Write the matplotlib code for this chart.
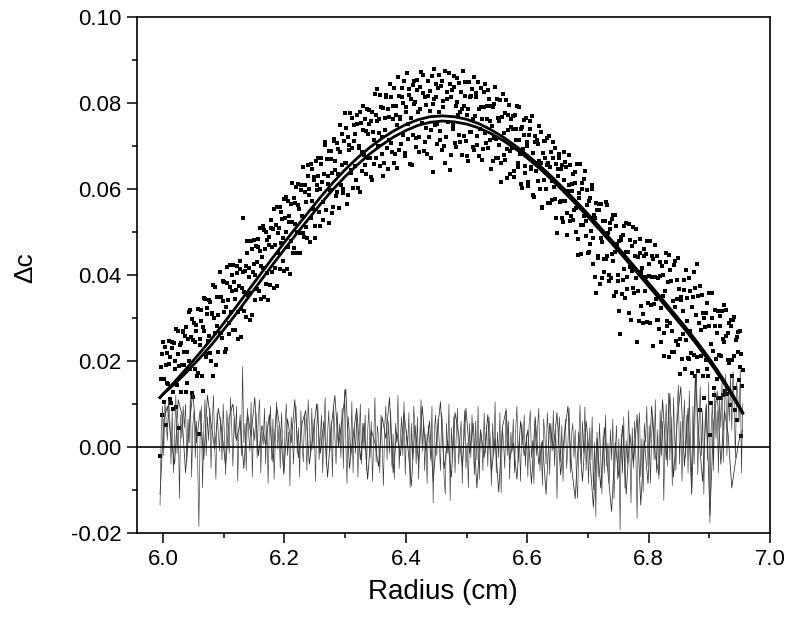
import numpy as np
import matplotlib.pyplot as plt
from matplotlib.ticker import MultipleLocator, FormatStrFormatter

plt.rcParams['font.family'] = ['Liberation Sans', 'DejaVu Sans']

# ---------------- data ----------------
# radius in 1e-3 cm, concentration difference in 1e-4 units
# scan points at odd thousandths of a cm
radius_scan_a = [
    5995, 5997, 5999, 6001, 6003, 6005, 6007, 6009, 6011, 6013,
    6015, 6017, 6019, 6021, 6023, 6025, 6027, 6029, 6031, 6033,
    6035, 6037, 6039, 6041, 6043, 6045, 6047, 6049, 6051, 6053,
    6055, 6057, 6059, 6061, 6063, 6065, 6067, 6069, 6071, 6073,
    6075, 6077, 6079, 6081, 6083, 6085, 6087, 6089, 6091, 6093,
    6095, 6097, 6099, 6101, 6103, 6105, 6107, 6109, 6111, 6113,
    6115, 6117, 6119, 6121, 6123, 6125, 6127, 6129, 6131, 6133,
    6135, 6137, 6139, 6141, 6143, 6145, 6147, 6149, 6151, 6153,
    6155, 6157, 6159, 6161, 6163, 6165, 6167, 6169, 6171, 6173,
    6175, 6177, 6179, 6181, 6183, 6185, 6187, 6189, 6191, 6193,
    6195, 6197, 6199, 6201, 6203, 6205, 6207, 6209, 6211, 6213,
    6215, 6217, 6219, 6221, 6223, 6225, 6227, 6229, 6231, 6233,
    6235, 6237, 6239, 6241, 6243, 6245, 6247, 6249, 6251, 6253,
    6255, 6257, 6259, 6261, 6263, 6265, 6267, 6269, 6271, 6273,
    6275, 6277, 6279, 6281, 6283, 6285, 6287, 6289, 6291, 6293,
    6295, 6297, 6299, 6301, 6303, 6305, 6307, 6309, 6311, 6313,
    6315, 6317, 6319, 6321, 6323, 6325, 6327, 6329, 6331, 6333,
    6335, 6337, 6339, 6341, 6343, 6345, 6347, 6349, 6351, 6353,
    6355, 6357, 6359, 6361, 6363, 6365, 6367, 6369, 6371, 6373,
    6375, 6377, 6379, 6381, 6383, 6385, 6387, 6389, 6391, 6393,
    6395, 6397, 6399, 6401, 6403, 6405, 6407, 6409, 6411, 6413,
    6415, 6417, 6419, 6421, 6423, 6425, 6427, 6429, 6431, 6433,
    6435, 6437, 6439, 6441, 6443, 6445, 6447, 6449, 6451, 6453,
    6455, 6457, 6459, 6461, 6463, 6465, 6467, 6469, 6471, 6473,
    6475, 6477, 6479, 6481, 6483, 6485, 6487, 6489, 6491, 6493,
    6495, 6497, 6499, 6501, 6503, 6505, 6507, 6509, 6511, 6513,
    6515, 6517, 6519, 6521, 6523, 6525, 6527, 6529, 6531, 6533,
    6535, 6537, 6539, 6541, 6543, 6545, 6547, 6549, 6551, 6553,
    6555, 6557, 6559, 6561, 6563, 6565, 6567, 6569, 6571, 6573,
    6575, 6577, 6579, 6581, 6583, 6585, 6587, 6589, 6591, 6593,
    6595, 6597, 6599, 6601, 6603, 6605, 6607, 6609, 6611, 6613,
    6615, 6617, 6619, 6621, 6623, 6625, 6627, 6629, 6631, 6633,
    6635, 6637, 6639, 6641, 6643, 6645, 6647, 6649, 6651, 6653,
    6655, 6657, 6659, 6661, 6663, 6665, 6667, 6669, 6671, 6673,
    6675, 6677, 6679, 6681, 6683, 6685, 6687, 6689, 6691, 6693,
    6695, 6697, 6699, 6701, 6703, 6705, 6707, 6709, 6711, 6713,
    6715, 6717, 6719, 6721, 6723, 6725, 6727, 6729, 6731, 6733,
    6735, 6737, 6739, 6741, 6743, 6745, 6747, 6749, 6751, 6753,
    6755, 6757, 6759, 6761, 6763, 6765, 6767, 6769, 6771, 6773,
    6775, 6777, 6779, 6781, 6783, 6785, 6787, 6789, 6791, 6793,
    6795, 6797, 6799, 6801, 6803, 6805, 6807, 6809, 6811, 6813,
    6815, 6817, 6819, 6821, 6823, 6825, 6827, 6829, 6831, 6833,
    6835, 6837, 6839, 6841, 6843, 6845, 6847, 6849, 6851, 6853,
    6855, 6857, 6859, 6861, 6863, 6865, 6867, 6869, 6871, 6873,
    6875, 6877, 6879, 6881, 6883, 6885, 6887, 6889, 6891, 6893,
    6895, 6897, 6899, 6901, 6903, 6905, 6907, 6909, 6911, 6913,
    6915, 6917, 6919, 6921, 6923, 6925, 6927, 6929, 6931, 6933,
    6935, 6937, 6939, 6941, 6943, 6945, 6947, 6949, 6951, 6953,
    6955,
]

dc_scan_a = [
    -20, 158, 216, 105, 233, 191, 149, 247, 210, 103,
    231, 89, 182, 275, 143, 216, 44, 242, 191, 269,
    222, 280, 148, 252, 200, 318, 126, 249, 288, 181,
    269, 173, 31, 250, 318, 131, 270, 343, 217, 310,
    259, 337, 200, 309, 377, 266, 190, 348, 307, 265,
    349, 253, 386, 315, 228, 382, 341, 289, 423, 362,
    271, 384, 343, 422, 251, 375, 413, 322, 533, 360,
    409, 302, 451, 395, 359, 478, 306, 425, 399, 468,
    367, 465, 509, 343, 442, 416, 504, 378, 482, 341,
    470, 528, 407, 506, 370, 469, 557, 451, 510, 413,
    547, 486, 409, 533, 581, 465, 524, 402, 566, 524,
    463, 567, 605, 499, 562, 451, 610, 538, 497, 610,
    569, 487, 655, 599, 532, 646, 554, 628, 487, 610,
    673, 547, 600, 659, 527, 635, 709, 552, 630, 689,
    597, 670, 543, 711, 645, 583, 706, 634, 687, 610,
    728, 591, 777, 661, 564, 722, 690, 638, 765, 603,
    711, 654, 751, 603, 696, 778, 641, 738, 680, 763,
    635, 727, 784, 672, 759, 621, 713, 820, 672, 759,
    731, 653, 790, 722, 629, 766, 818, 695, 787, 713,
    815, 687, 763, 660, 792, 748, 860, 691, 768, 814,
    726, 852, 684, 790, 752, 833, 659, 810, 726, 852,
    803, 719, 830, 686, 787, 873, 754, 824, 710, 796,
    681, 817, 782, 738, 863, 639, 809, 845, 750, 835,
    780, 715, 850, 805, 700, 660, 825, 755, 870, 644,
    814, 749, 838, 708, 792, 857, 726, 780, 825, 679,
    793, 848, 712, 771, 665, 814, 733, 833, 762, 691,
    815, 724, 848, 676, 790, 763, 692, 826, 729, 793,
    696, 810, 759, 647, 791, 719, 838, 671, 764, 703,
    806, 617, 767, 730, 668, 806, 694, 772, 635, 743,
    696, 769, 642, 740, 793, 661, 713, 611, 744, 692,
    760, 637, 710, 608, 725, 758, 646, 683, 581, 724,
    641, 704, 746, 599, 661, 559, 711, 673, 601, 718,
    660, 568, 685, 618, 710, 577, 659, 497, 629, 681,
    573, 655, 523, 620, 662, 544, 596, 678, 525, 612,
    634, 551, 613, 499, 447, 578, 658, 517, 614, 536,
    641, 490, 562, 453, 580, 502, 599, 426, 533, 357,
    551, 443, 565, 487, 393, 525, 437, 569, 445, 497,
    399, 521, 448, 539, 351, 453, 515, 386, 478, 262,
    482, 389, 515, 347, 454, 396, 518, 419, 296, 468,
    369, 476, 393, 243, 441, 483, 329, 416, 288, 444,
    396, 478, 334, 426, 288, 395, 436, 333, 470, 296,
    393, 275, 431, 323, 399, 211, 363, 429, 281, 447,
    289, 386, 222, 424, 325, 247, 389, 439, 252, 348,
    205, 316, 388, 249, 346, 207, 394, 270, 172, 348,
    213, 369, 425, 177, 288, 375, 211, 312, 113, 279,
    311, 182, 358, 27, 240, 301, 137, 318, 204, 264,
    115, 281, 211, 317, 122, 243, 319, 124, 265, 195,
    295, 165, 295, 211, 86, 255, 220, 155, 270, 25,
    180,
]

# scan points at even thousandths of a cm
radius_scan_b = [
    5996, 5998, 6000, 6002, 6004, 6006, 6008, 6010, 6012, 6014,
    6016, 6018, 6020, 6022, 6024, 6026, 6028, 6030, 6032, 6034,
    6036, 6038, 6040, 6042, 6044, 6046, 6048, 6050, 6052, 6054,
    6056, 6058, 6060, 6062, 6064, 6066, 6068, 6070, 6072, 6074,
    6076, 6078, 6080, 6082, 6084, 6086, 6088, 6090, 6092, 6094,
    6096, 6098, 6100, 6102, 6104, 6106, 6108, 6110, 6112, 6114,
    6116, 6118, 6120, 6122, 6124, 6126, 6128, 6130, 6132, 6134,
    6136, 6138, 6140, 6142, 6144, 6146, 6148, 6150, 6152, 6154,
    6156, 6158, 6160, 6162, 6164, 6166, 6168, 6170, 6172, 6174,
    6176, 6178, 6180, 6182, 6184, 6186, 6188, 6190, 6192, 6194,
    6196, 6198, 6200, 6202, 6204, 6206, 6208, 6210, 6212, 6214,
    6216, 6218, 6220, 6222, 6224, 6226, 6228, 6230, 6232, 6234,
    6236, 6238, 6240, 6242, 6244, 6246, 6248, 6250, 6252, 6254,
    6256, 6258, 6260, 6262, 6264, 6266, 6268, 6270, 6272, 6274,
    6276, 6278, 6280, 6282, 6284, 6286, 6288, 6290, 6292, 6294,
    6296, 6298, 6300, 6302, 6304, 6306, 6308, 6310, 6312, 6314,
    6316, 6318, 6320, 6322, 6324, 6326, 6328, 6330, 6332, 6334,
    6336, 6338, 6340, 6342, 6344, 6346, 6348, 6350, 6352, 6354,
    6356, 6358, 6360, 6362, 6364, 6366, 6368, 6370, 6372, 6374,
    6376, 6378, 6380, 6382, 6384, 6386, 6388, 6390, 6392, 6394,
    6396, 6398, 6400, 6402, 6404, 6406, 6408, 6410, 6412, 6414,
    6416, 6418, 6420, 6422, 6424, 6426, 6428, 6430, 6432, 6434,
    6436, 6438, 6440, 6442, 6444, 6446, 6448, 6450, 6452, 6454,
    6456, 6458, 6460, 6462, 6464, 6466, 6468, 6470, 6472, 6474,
    6476, 6478, 6480, 6482, 6484, 6486, 6488, 6490, 6492, 6494,
    6496, 6498, 6500, 6502, 6504, 6506, 6508, 6510, 6512, 6514,
    6516, 6518, 6520, 6522, 6524, 6526, 6528, 6530, 6532, 6534,
    6536, 6538, 6540, 6542, 6544, 6546, 6548, 6550, 6552, 6554,
    6556, 6558, 6560, 6562, 6564, 6566, 6568, 6570, 6572, 6574,
    6576, 6578, 6580, 6582, 6584, 6586, 6588, 6590, 6592, 6594,
    6596, 6598, 6600, 6602, 6604, 6606, 6608, 6610, 6612, 6614,
    6616, 6618, 6620, 6622, 6624, 6626, 6628, 6630, 6632, 6634,
    6636, 6638, 6640, 6642, 6644, 6646, 6648, 6650, 6652, 6654,
    6656, 6658, 6660, 6662, 6664, 6666, 6668, 6670, 6672, 6674,
    6676, 6678, 6680, 6682, 6684, 6686, 6688, 6690, 6692, 6694,
    6696, 6698, 6700, 6702, 6704, 6706, 6708, 6710, 6712, 6714,
    6716, 6718, 6720, 6722, 6724, 6726, 6728, 6730, 6732, 6734,
    6736, 6738, 6740, 6742, 6744, 6746, 6748, 6750, 6752, 6754,
    6756, 6758, 6760, 6762, 6764, 6766, 6768, 6770, 6772, 6774,
    6776, 6778, 6780, 6782, 6784, 6786, 6788, 6790, 6792, 6794,
    6796, 6798, 6800, 6802, 6804, 6806, 6808, 6810, 6812, 6814,
    6816, 6818, 6820, 6822, 6824, 6826, 6828, 6830, 6832, 6834,
    6836, 6838, 6840, 6842, 6844, 6846, 6848, 6850, 6852, 6854,
    6856, 6858, 6860, 6862, 6864, 6866, 6868, 6870, 6872, 6874,
    6876, 6878, 6880, 6882, 6884, 6886, 6888, 6890, 6892, 6894,
    6896, 6898, 6900, 6902, 6904, 6906, 6908, 6910, 6912, 6914,
    6916, 6918, 6920, 6922, 6924, 6926, 6928, 6930, 6932, 6934,
    6936, 6938, 6940, 6942, 6944, 6946, 6948, 6950, 6952, 6954,
]

dc_scan_b = [
    187, 75, 243, 157, 50, 218, 146, 194, 112, 245,
    128, 241, 199, 92, 270, 188, 236, 129, 268, 191,
    259, 127, 220, 314, 182, 255, 298, 116, 245, 283,
    166, 320, 238, 292, 165, 278, 347, 210, 324, 247,
    341, 219, 312, 166, 299, 373, 282, 220, 349, 407,
    266, 340, 383, 222, 325, 419, 263, 371, 315, 399,
    423, 271, 365, 404, 313, 432, 255, 369, 408, 317,
    421, 479, 353, 417, 296, 460, 408, 482, 341, 430,
    484, 362, 456, 420, 514, 348, 461, 500, 404, 488,
    377, 510, 464, 553, 417, 516, 374, 498, 557, 475,
    529, 433, 576, 500, 413, 572, 536, 479, 613, 451,
    580, 519, 452, 611, 554, 498, 597, 650, 489, 592,
    511, 629, 587, 476, 659, 573, 621, 515, 664, 597,
    630, 514, 672, 616, 569, 702, 551, 669, 612, 521,
    688, 636, 559, 717, 666, 594, 692, 555, 748, 656,
    599, 712, 660, 742, 585, 703, 776, 644, 696, 749,
    727, 620, 772, 699, 592, 754, 687, 794, 656, 734,
    786, 673, 750, 628, 780, 732, 659, 771, 833, 700,
    762, 819, 681, 788, 660, 737, 814, 646, 768, 844,
    706, 793, 834, 681, 773, 649, 816, 762, 704, 835,
    801, 677, 779, 870, 717, 818, 764, 655, 841, 797,
    698, 854, 780, 721, 837, 753, 864, 689, 815, 741,
    851, 722, 827, 673, 798, 879, 749, 815, 705, 865,
    735, 840, 690, 790, 875, 720, 810, 755, 845, 679,
    829, 739, 863, 698, 802, 772, 846, 710, 785, 874,
    723, 817, 676, 785, 849, 733, 817, 697, 861, 770,
    824, 703, 787, 740, 834, 667, 791, 845, 708, 762,
    830, 714, 793, 746, 665, 798, 717, 810, 673, 757,
    660, 768, 821, 679, 777, 625, 738, 796, 689, 762,
    740, 628, 771, 714, 652, 790, 682, 740, 603, 726,
    654, 766, 699, 617, 739, 652, 770, 587, 710, 658,
    715, 618, 665, 733, 555, 683, 620, 712, 655, 567,
    724, 652, 574, 672, 604, 696, 533, 646, 673, 570,
    646, 533, 686, 573, 650, 492, 609, 656, 538, 595,
    527, 639, 556, 657, 484, 591, 448, 600, 517, 624,
    526, 598, 450, 571, 473, 610, 487, 539, 396, 567,
    439, 551, 378, 565, 476, 408, 525, 437, 563, 385,
    507, 394, 531, 432, 539, 361, 473, 399, 316, 488,
    355, 492, 413, 520, 367, 454, 311, 482, 409, 511,
    357, 444, 506, 362, 294, 451, 407, 309, 461, 362,
    449, 291, 397, 479, 331, 443, 234, 396, 343, 444,
    296, 398, 244, 421, 352, 264, 451, 292, 384, 210,
    412, 269, 340, 222, 433, 345, 237, 368, 170, 341,
    263, 364, 181, 412, 294, 205, 362, 218, 325, 406,
    166, 307, 209, 350, 86, 273, 354, 165, 301, 202,
    334, 165, 281, 102, 358, 224, 120, 281, 157, 317,
    213, 304, 114, 250, 330, 131, 257, 202, 288, 98,
    282, 202, 302, 138, 248, 62, 267, 187, 217, 142,
]

# residuals of the first fit, on the odd-thousandth radii
resid_fit1 = [
    -135, 40, 95, -20, 105, 60, 15, 110, 70, -40,
    85, -60, 30, 120, -15, 55, -120, 75, 20, 95,
    45, 100, -35, 65, 10, 125, -70, 50, 85, -25,
    60, -40, -185, 30, 95, -95, 40, 110, -20, 70,
    15, 90, -50, 55, 120, 5, -75, 80, 35, -10,
    70, -30, 100, 25, -65, 85, 40, -15, 115, 50,
    -45, 65, 20, 95, -80, 40, 75, -20, 187, 10,
    55, -55, 90, 30, -10, 105, -70, 45, 15, 80,
    -25, 70, 110, -60, 35, 5, 90, -40, 60, -85,
    40, 95, -30, 65, -75, 20, 105, -5, 50, -50,
    80, 15, -65, 55, 100, -20, 35, -90, 70, 25,
    -40, 60, 95, -15, 45, -70, 85, 10, -35, 75,
    30, -55, 110, 50, -20, 90, -5, 65, -80, 40,
    100, -30, 20, 75, -60, 45, 115, -45, 30, 85,
    -10, 60, -70, 95, 25, -40, 80, 5, 55, -25,
    90, -50, 133, 15, -85, 70, 35, -20, 105, -60,
    45, -15, 80, -70, 20, 100, -40, 55, -5, 75,
    -55, 35, 90, -25, 60, -80, 10, 115, -35, 50,
    20, -60, 75, 5, -90, 45, 95, -30, 60, -15,
    85, -45, 30, -75, 55, 10, 120, -50, 25, 70,
    -20, 105, -65, 40, 0, 80, -95, 55, -30, 95,
    45, -40, 70, -75, 25, 110, -10, 60, -55, 30,
    -85, 50, 15, -30, 95, -130, 40, 75, -20, 65,
    10, -55, 80, 35, -70, -110, 55, -15, 100, -125,
    45, -20, 70, -60, 25, 90, -40, 15, 60, -85,
    30, 85, -50, 10, -95, 55, -25, 75, 5, -65,
    60, -30, 95, -75, 40, 15, -55, 80, -15, 50,
    -45, 70, 20, -90, 55, -15, 105, -60, 35, -25,
    80, -107, 45, 10, -50, 90, -20, 60, -75, 35,
    -10, 65, -60, 40, 95, -35, 20, -80, 55, 5,
    75, -45, 30, -70, 50, 85, -25, 15, -85, 60,
    -20, 45, 90, -55, 10, -90, 65, 30, -40, 80,
    25, -65, 55, -10, 85, -45, 40, -120, 15, 70,
    -35, 50, -80, 20, 65, -50, 5, 90, -60, 30,
    55, -25, 40, -70, -119, 15, 98, -40, 60, -15,
    93, -55, 20, -85, 45, -30, 70, -100, 10, -162,
    35, -70, 55, -20, -110, 25, -60, 75, -45, 10,
    -85, 40, -30, 65, -120, -15, 50, -75, 20, -193,
    30, -60, 70, -95, 15, -40, 85, -10, -130, 45,
    -50, 60, -20, -166, 35, 80, -70, 20, -105, 55,
    10, 95, -45, 50, -85, 25, 70, -30, 110, -60,
    40, -75, 85, -20, 60, -125, 30, 100, -45, 125,
    -30, 70, -90, 115, 20, -55, 90, 144, -40, 60,
    -80, 35, 110, -25, 75, -60, 130, 10, -85, 95,
    -40, 120, 179, -65, 50, 140, -20, 85, -110, 60,
    95, -30, 150, -177, 40, 105, -55, 130, 20, 85,
    -60, 110, 45, 155, -35, 90, 170, -20, 125, 60,
    165, 40, 175, 95, -25, 150, 120, 60, 180, -60,
    100,
]

# residuals of the second fit (coarser radial grid)
radius_resid2 = [
    5995, 6001, 6007, 6013, 6019, 6025, 6031, 6037, 6043, 6049,
    6055, 6061, 6067, 6073, 6079, 6085, 6091, 6097, 6103, 6109,
    6115, 6121, 6127, 6133, 6139, 6145, 6151, 6157, 6163, 6169,
    6175, 6181, 6187, 6193, 6199, 6205, 6211, 6217, 6223, 6229,
    6235, 6241, 6247, 6253, 6259, 6265, 6271, 6277, 6283, 6289,
    6295, 6301, 6307, 6313, 6319, 6325, 6331, 6337, 6343, 6349,
    6355, 6361, 6367, 6373, 6379, 6385, 6391, 6397, 6403, 6409,
    6415, 6421, 6427, 6433, 6439, 6445, 6451, 6457, 6463, 6469,
    6475, 6481, 6487, 6493, 6499, 6505, 6511, 6517, 6523, 6529,
    6535, 6541, 6547, 6553, 6559, 6565, 6571, 6577, 6583, 6589,
    6595, 6601, 6607, 6613, 6619, 6625, 6631, 6637, 6643, 6649,
    6655, 6661, 6667, 6673, 6679, 6685, 6691, 6697, 6703, 6709,
    6715, 6721, 6727, 6733, 6739, 6745, 6751, 6757, 6763, 6769,
    6775, 6781, 6787, 6793, 6799, 6805, 6811, 6817, 6823, 6829,
    6835, 6841, 6847, 6853, 6859, 6865, 6871, 6877, 6883, 6889,
    6895, 6901, 6907, 6913, 6919, 6925, 6931, 6937, 6943, 6949,
    6955,
]

resid_fit2 = [
    -110, 60, 95, 20, -40, 110, 75, -60, 45, 130,
    10, 85, -30, 120, 55, -5, 90, 35, -45, 70,
    100, 15, 60, -50, 80, 25, 115, -20, 50, 5,
    75, -35, 95, 40, -60, 65, 10, 110, -25, 55,
    85, -40, 30, 100, -15, 60, -70, 45, 120, 0,
    65, 135, -50, 25, 90, -30, 55, -75, 40, 10,
    -45, 70, 20, 115, -60, 35, -20, 80, 5, -90,
    50, -35, 95, -10, 60, -80, 25, 105, -50, 15,
    -70, 80, 30, -45, 90, -15, 55, -95, 40, -25,
    75, -60, 20, -105, 45, 85, -30, 10, -75, 60,
    -20, 40, -85, 70, -40, 15, -110, 55, -5, 80,
    -65, 25, 95, -45, -120, 35, -80, 60, -25, -140,
    20, -95, 45, -60, -150, 10, -70, 50, -110, 30,
    -40, 75, -135, 15, -85, 95, -20, -65, 110, -30,
    125, -70, 60, 140, -45, 90, -110, 165, 20, -80,
    100, -160, 55, 130, -40, 85, 30, -95, -35, 15,
    40,
]

# two fitted curves
radius_fit = [
    5995, 6000, 6020, 6040, 6060, 6080, 6100, 6120, 6140, 6160,
    6180, 6200, 6220, 6240, 6260, 6280, 6300, 6320, 6340, 6360,
    6380, 6400, 6420, 6440, 6460, 6480, 6500, 6520, 6540, 6560,
    6580, 6600, 6620, 6640, 6660, 6680, 6700, 6720, 6740, 6760,
    6780, 6800, 6820, 6840, 6860, 6880, 6900, 6920, 6940, 6955,
]
dc_fit1 = [
    115, 123, 153, 185, 218, 252, 288, 325, 363, 401,
    439, 476, 512, 547, 582, 615, 645, 672, 696, 717,
    735, 750, 761, 768, 770, 768, 762, 752, 738, 721,
    701, 679, 655, 629, 601, 572, 542, 511, 479, 447,
    414, 381, 348, 314, 280, 244, 206, 164, 118, 80,
]
dc_fit2 = [
    115, 123, 148, 176, 206, 238, 273, 309, 347, 385,
    423, 460, 496, 531, 566, 599, 629, 656, 681, 702,
    721, 736, 748, 755, 758, 756, 751, 742, 729, 713,
    694, 672, 648, 622, 594, 565, 535, 504, 472, 440,
    407, 374, 341, 307, 273, 237, 199, 158, 114, 78,
]

# unit conversion: 1e-3 cm -> cm, 1e-4 -> 1
r_a = np.array(radius_scan_a) / 1000.0
y_a = np.array(dc_scan_a) * 1e-4
r_b = np.array(radius_scan_b) / 1000.0
y_b = np.array(dc_scan_b) * 1e-4
y_res1 = np.array(resid_fit1) * 1e-4
r_res2 = np.array(radius_resid2) / 1000.0
y_res2 = np.array(resid_fit2) * 1e-4
r_fit = np.array(radius_fit) / 1000.0
y_fit1 = np.array(dc_fit1) * 1e-4
y_fit2 = np.array(dc_fit2) * 1e-4

# ---------------- plot ----------------
fig = plt.figure(figsize=(8, 6.28), dpi=100)
ax = fig.add_axes([0.17125, 0.1513, 0.79125, 0.8217])

for rr, yy in ((r_a, y_a), (r_b, y_b)):
    ax.plot(rr, yy, ls='none', marker='s', ms=3.1, mew=0,
            mfc='black', zorder=2)
# residual traces
ax.plot(r_res2, y_res2, color='#2a2a2a', lw=0.55, zorder=2)
ax.plot(r_a, y_res1, color='#3a3a3a', lw=0.45, zorder=2)
ax.axhline(0, color='black', lw=1.2, zorder=3)
ax.plot(r_fit, y_fit1, color='black', lw=2.0, zorder=4)
ax.plot(r_fit, y_fit2, color='black', lw=2.0, zorder=4)

ax.set_xlim(5.957, 7.0)
ax.set_ylim(-0.02, 0.10)
ax.xaxis.set_major_locator(MultipleLocator(0.2))
ax.xaxis.set_minor_locator(MultipleLocator(0.1))
ax.yaxis.set_major_locator(MultipleLocator(0.02))
ax.yaxis.set_minor_locator(MultipleLocator(0.01))
ax.xaxis.set_major_formatter(FormatStrFormatter('%.1f'))
ax.yaxis.set_major_formatter(FormatStrFormatter('%.2f'))

ax.tick_params(which='both', direction='out', top=False, right=False,
               width=1.1, labelsize=16)
ax.tick_params(which='major', length=7.2)
ax.tick_params(which='minor', length=3.6)
ax.tick_params(axis='x', pad=4.0)
ax.tick_params(axis='y', pad=4.0)
for sp in ax.spines.values():
    sp.set_linewidth(1.2)

ax.set_xlabel('Radius (cm)', fontsize=20)
ax.set_ylabel('\u0394c', fontsize=19)
ax.xaxis.set_label_coords(0.484, -0.09)
ax.yaxis.set_label_coords(-0.158, 0.515)

fig.savefig('out.png', dpi=100)
